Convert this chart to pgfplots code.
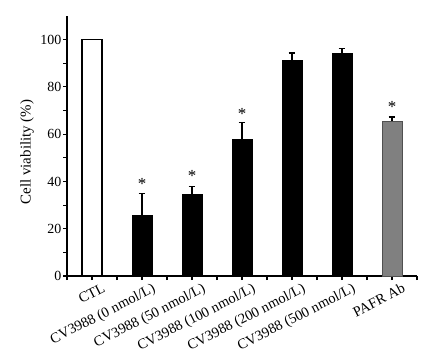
\documentclass[border=0pt]{standalone}
\usepackage{pgfplots}
\pgfplotsset{compat=1.18}
\usepackage{fontspec}
\setmainfont{Liberation Serif}
\definecolor{barGray}{RGB}{128,128,128}
\definecolor{edgeGray}{RGB}{80,80,80}
\begin{document}
\begin{tikzpicture}
\begin{axis}[
  scale only axis,
  width=350bp, height=260bp,
  xmin=-0.5, xmax=6.5,
  ymin=0, ymax=110,
  axis x line*=bottom, axis y line*=left,
  axis line style={line width=1.2bp},
  xtick={0,1,2,3,4,5,6},
  minor xtick={-0.5,0.5,1.5,2.5,3.5,4.5,5.5,6.5},
  xticklabels={CTL,CV3988 (0 nmol/L),CV3988 (50 nmol/L),CV3988 (100 nmol/L),CV3988 (200 nmol/L),CV3988 (500 nmol/L),PAFR Ab},
  ytick={0,20,40,60,80,100},
  minor ytick={10,30,50,70,90},
  tick style={line width=1.1bp, black},
  major tick length=4bp, minor tick length=4bp,
  tick align=outside,
  /pgf/number format/assume math mode=true,
  yticklabel style={font=\fontsize{14}{16}\selectfont, inner sep=1.5bp},
  xticklabel style={font=\fontsize{14.5}{16}\selectfont, rotate=27, anchor=north east, inner sep=0.5bp, yshift=-6bp, xshift=8bp},
  ylabel={Cell viability (\%)},
  every axis y label/.style={at={(axis description cs:-0.114,0.477)}, rotate=90, anchor=center, font=\fontsize{15}{17}\selectfont},
  bar width=20bp,
  error bars/error bar style={line width=1.3bp, black},
  error bars/error mark options={rotate=90, mark size=3.3bp, line width=1.3bp},
  clip=false,
]
\addplot[ybar, bar shift=0pt, fill=white, draw=black, line width=1.3bp] coordinates {(0,100)};
\addplot[ybar, bar shift=0pt, fill=black, draw=black, line width=1bp,
  error bars/.cd, y dir=plus, y explicit]
  coordinates {(1,25.6) +- (0,9.4) (2,34.3) +- (0,3.6) (3,57.9) +- (0,7.1) (4,91.1) +- (0,3.3) (5,94.2) +- (0,2.1)};
\addplot[ybar, bar shift=0pt, fill=barGray, draw=edgeGray, line width=1bp,
  error bars/.cd, y dir=plus, y explicit]
  coordinates {(6,65.4) +- (0,1.9)};
\addplot[draw=none, mark=none, nodes near coords={*},
  every node near coord/.append style={anchor=center, font=\fontsize{17}{17}\selectfont, inner sep=0pt, yshift=-3bp}]
  coordinates {(1,40.3) (2,43.6) (3,69.9) (6,72.9)};
\end{axis}
\path (current axis.south west) ++(-67bp,-86bp) coordinate (BBA);
\path (current axis.north east) ++(19bp,16bp) coordinate (BBB);
\pgfresetboundingbox
\path[use as bounding box] (BBA) rectangle (BBB);
\end{tikzpicture}
\end{document}
